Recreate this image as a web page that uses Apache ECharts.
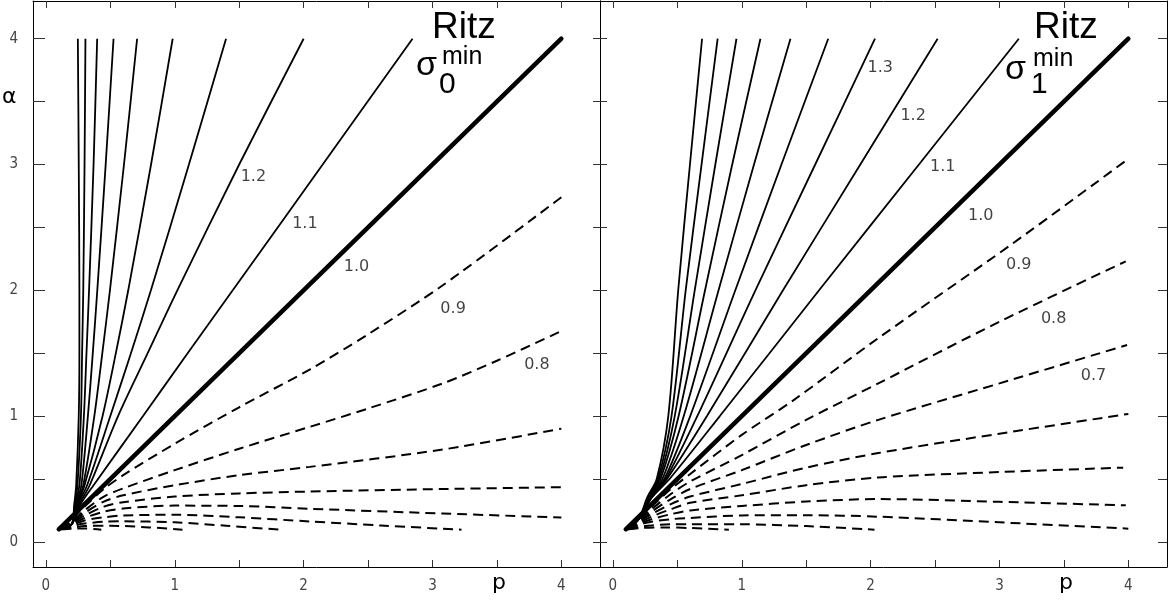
<!DOCTYPE html>
<html>
<head>
<meta charset="utf-8">
<script src="https://cdn.jsdelivr.net/npm/echarts@6/dist/echarts.min.js"></script>
<style>
html,body{margin:0;padding:0;background:#fff;}
#chart{width:1168px;height:603px;}
</style>
</head>
<body>
<div id="chart"></div>
<script>
// ---------- tick values ----------
const tickValues = [0, 0.5, 1, 1.5, 2, 2.5, 3, 3.5, 4];
const tickLabels = [0, 1, 2, 3, 4];

// ---------- LEFT panel (sigma_0 min) : [p, alpha] ----------
const L_10 = [[0.1,0.1],[4,4]];
const L_11 = [[0.1,0.1],[0.2,0.14],[0.27,0.3],[0.37,0.45],[0.754,1.0],[1.10,1.5],[1.45,2.0],[2.148,3.0],[2.845,4.0]];
const L_12 = [[0.1,0.1],[0.2,0.14],[0.26,0.3],[0.34,0.45],[0.56,1.0],[0.79,1.5],[1.02,2.0],[1.50,3.0],[2.0,4.0]];
const L_13 = [[0.1,0.1],[0.2,0.14],[0.25,0.3],[0.32,0.45],[0.50,1.0],[0.66,1.5],[0.815,2.0],[1.11,3.0],[1.398,4.0]];
const L_14 = [[0.1,0.1],[0.2,0.14],[0.245,0.3],[0.30,0.45],[0.44,1.0],[0.543,1.5],[0.639,2.0],[0.816,3.0],[0.984,4.0]];
const L_15 = [[0.1,0.1],[0.2,0.14],[0.24,0.3],[0.29,0.45],[0.376,1.0],[0.438,1.5],[0.497,2.0],[0.606,3.0],[0.708,4.0]];
const L_16 = [[0.1,0.1],[0.2,0.14],[0.235,0.3],[0.275,0.45],[0.326,1.0],[0.364,1.5],[0.399,2.0],[0.464,3.0],[0.525,4.0]];
const L_17 = [[0.1,0.1],[0.2,0.14],[0.23,0.3],[0.26,0.45],[0.295,1.0],[0.315,1.5],[0.335,2.0],[0.37,3.0],[0.398,4.0]];
const L_18 = [[0.1,0.1],[0.2,0.14],[0.225,0.3],[0.245,0.45],[0.272,1.0],[0.281,1.5],[0.29,2.0],[0.30,3.0],[0.307,4.0]];
const L_19 = [[0.1,0.1],[0.2,0.14],[0.22,0.3],[0.235,0.45],[0.255,1.0],[0.26,1.5],[0.26,2.0],[0.255,3.0],[0.248,4.0]];

const L_09 = [[0.12,0.1],[0.22,0.2],[0.3,0.28],[0.45,0.42],[0.6,0.53],[1.0,0.78],[1.5,1.07],[2.047,1.37],[2.5,1.65],[3.08,2.04],[4,2.74]];
const L_08 = [[0.12,0.1],[0.22,0.18],[0.3,0.25],[0.45,0.36],[0.6,0.425],[1.0,0.57],[1.5,0.74],[2.047,0.914],[2.5,1.06],[3.08,1.26],[3.5,1.44],[4,1.676]];
const L_07 = [[0.12,0.1],[0.22,0.17],[0.3,0.23],[0.45,0.32],[0.6,0.37],[1.0,0.45],[1.5,0.53],[2.047,0.596],[3.08,0.734],[4,0.9]];
const L_06 = [[0.12,0.1],[0.22,0.16],[0.3,0.21],[0.45,0.28],[0.6,0.315],[1.0,0.36],[1.5,0.385],[2.047,0.40],[3.08,0.42],[4,0.435]];
const L_05 = [[0.12,0.1],[0.22,0.15],[0.3,0.19],[0.45,0.24],[0.6,0.265],[1.0,0.288],[1.5,0.285],[2.047,0.263],[3.08,0.225],[4,0.194]];
const L_04 = [[0.12,0.1],[0.22,0.14],[0.3,0.17],[0.45,0.195],[0.6,0.21],[1.0,0.215],[1.5,0.195],[2.047,0.162],[2.6,0.13],[3.225,0.097]];
const L_03 = [[0.12,0.1],[0.22,0.13],[0.3,0.145],[0.45,0.16],[0.6,0.163],[1.0,0.155],[1.4,0.128],[1.81,0.097]];
const L_02 = [[0.12,0.1],[0.22,0.115],[0.3,0.125],[0.5,0.128],[0.8,0.115],[1.06,0.097]];
const L_01 = [[0.12,0.1],[0.2,0.105],[0.3,0.106],[0.43,0.097]];

// ---------- RIGHT panel (sigma_1 min) : [p, alpha] ----------
const R_10 = [[0.1,0.1],[4,4]];
const R_11 = [[0.1,0.1],[0.2,0.18],[0.3,0.35],[0.44,0.5],[0.83,1.0],[1.60,2.0],[2.375,3.0],[3.15,4.0]];
const R_12 = [[0.1,0.1],[0.2,0.18],[0.3,0.35],[0.42,0.5],[0.73,1.0],[1.32,2.0],[1.92,3.0],[2.52,4.0]];
const R_13 = [[0.1,0.1],[0.2,0.18],[0.295,0.35],[0.41,0.5],[0.655,1.0],[1.106,2.0],[1.57,3.0],[2.034,4.0]];
const R_14 = [[0.1,0.1],[0.2,0.18],[0.29,0.35],[0.40,0.5],[0.60,1.0],[0.95,2.0],[1.308,3.0],[1.671,4.0]];
const R_15 = [[0.1,0.1],[0.2,0.18],[0.285,0.35],[0.385,0.5],[0.55,1.0],[0.82,2.0],[1.095,3.0],[1.378,4.0]];
const R_16 = [[0.1,0.1],[0.2,0.18],[0.28,0.35],[0.37,0.5],[0.51,1.0],[0.715,2.0],[0.926,3.0],[1.145,4.0]];
const R_17 = [[0.1,0.1],[0.2,0.18],[0.275,0.35],[0.36,0.5],[0.48,1.0],[0.635,2.0],[0.795,3.0],[0.959,4.0]];
const R_18 = [[0.1,0.1],[0.2,0.18],[0.27,0.35],[0.35,0.5],[0.455,1.0],[0.565,2.0],[0.688,3.0],[0.813,4.0]];
const R_19 = [[0.1,0.1],[0.2,0.18],[0.265,0.35],[0.34,0.5],[0.43,1.0],[0.507,2.0],[0.598,3.0],[0.692,4.0]];

const R_09 = [[0.12,0.1],[0.22,0.2],[0.3,0.28],[0.45,0.42],[0.6,0.54],[1.0,0.85],[1.4,1.125],[2.06,1.62],[3.1,2.37],[3.98,3.03]];
const R_08 = [[0.12,0.1],[0.22,0.19],[0.3,0.26],[0.45,0.38],[0.6,0.48],[1.0,0.69],[1.5,0.97],[2.06,1.26],[3.0,1.75],[3.98,2.23]];
const R_07 = [[0.12,0.1],[0.22,0.18],[0.3,0.24],[0.45,0.34],[0.6,0.42],[1.0,0.57],[1.5,0.77],[2.06,0.97],[3.0,1.26],[3.99,1.565]];
const R_06 = [[0.12,0.1],[0.22,0.17],[0.3,0.22],[0.45,0.3],[0.6,0.36],[1.0,0.46],[1.5,0.59],[2.06,0.706],[3.0,0.86],[4.0,1.017]];
const R_05 = [[0.12,0.1],[0.22,0.16],[0.3,0.2],[0.45,0.26],[0.6,0.31],[1.0,0.37],[1.5,0.45],[2.06,0.512],[3.0,0.555],[3.96,0.59]];
const R_04 = [[0.12,0.1],[0.22,0.15],[0.3,0.18],[0.45,0.22],[0.6,0.25],[1.0,0.285],[1.5,0.32],[2.06,0.34],[3.0,0.318],[3.98,0.29]];
const R_03 = [[0.12,0.1],[0.22,0.14],[0.3,0.16],[0.45,0.18],[0.6,0.19],[1.0,0.21],[1.5,0.212],[2.06,0.2],[3.0,0.155],[4.0,0.105]];
const R_02 = [[0.12,0.1],[0.22,0.12],[0.3,0.13],[0.45,0.14],[0.6,0.14],[1.0,0.14],[1.5,0.125],[2.03,0.097]];
const R_01 = [[0.12,0.1],[0.22,0.11],[0.4,0.115],[0.6,0.11],[0.9,0.097]];

// ---------- contour labels ----------
const leftLabelText = ['1.2','1.1','1.0','0.9','0.8'];
const leftLabelAt = [[1.61,2.90],[2.01,2.53],[2.41,2.19],[3.16,1.85],[3.81,1.41]];
const rightLabelText = ['1.3','1.2','1.1','1.0','0.9','0.8','0.7'];
const rightLabelAt = [[2.075,3.77],[2.33,3.39],[2.56,2.98],[2.855,2.59],[3.15,2.20],[3.42,1.77],[3.73,1.32]];

const leftSolid = [L_11,L_12,L_13,L_14,L_15,L_16,L_17,L_18,L_19];
const leftDashed = [L_09,L_08,L_07,L_06,L_05,L_04,L_03,L_02,L_01];
const rightSolid = [R_11,R_12,R_13,R_14,R_15,R_16,R_17,R_18,R_19];
const rightDashed = [R_09,R_08,R_07,R_06,R_05,R_04,R_03,R_02,R_01];

// ---------- build ----------
const chart = echarts.init(document.getElementById('chart'), null, {renderer:'canvas'});
const tickFont = "'DejaVu Sans Condensed','DejaVu Sans',sans-serif";

function xAx(gi, pos, labels){
  return {
    type:'value', gridIndex:gi, position:pos, min:-0.1, max:4.3,
    axisLine:{show:true, onZero:false, lineStyle:{color:'#000', width:1}},
    axisTick:{show:true, inside:true, length:7, customValues:tickValues, lineStyle:{color:'#333', width:1}},
    axisLabel:{show:labels, customValues:tickLabels, margin:12, fontSize:15, color:'#444', fontFamily:tickFont,
      formatter:v=>String(v)},
    splitLine:{show:false}
  };
}
function yAx(gi, pos, opts){
  return Object.assign({
    type:'value', gridIndex:gi, position:pos, min:-0.2, max:4.3,
    axisLine:{show:true, onZero:false, lineStyle:{color:'#000', width:1}},
    axisTick:{show:false},
    axisLabel:{show:false},
    splitLine:{show:false}
  }, opts);
}

const series = [];
function addLine(data, gi, kind){
  const style = kind==='thick' ? {color:'#000', width:4.5, type:'solid', cap:'round'}
    : kind==='solid' ? {color:'#000', width:1.8, type:'solid'}
    : {color:'#000', width:2, type:[10,6]};
  series.push({
    type:'line', xAxisIndex: gi===0?0:2, yAxisIndex: gi===0?0:2,
    data:data, showSymbol:false, symbol:'none', smooth:0.3,
    lineStyle:style, silent:true, animation:false, z:2
  });
}
leftDashed.forEach(d=>addLine(d,0,'dashed'));
leftSolid.forEach(d=>addLine(d,0,'solid'));
addLine(L_10,0,'thick');
rightDashed.forEach(d=>addLine(d,1,'dashed'));
rightSolid.forEach(d=>addLine(d,1,'solid'));
addLine(R_10,1,'thick');

function labelSeries(texts, at, gi){
  series.push({
    type:'scatter', xAxisIndex: gi===0?0:2, yAxisIndex: gi===0?0:2,
    data: at.map((c,i)=>({value:c, name:texts[i]})),
    symbolSize:0, silent:true, animation:false, z:5,
    label:{show:true, position:'inside', formatter:p=>p.name, fontSize:16, color:'#111',
      fontFamily:"'DejaVu Sans',sans-serif"}
  });
}
labelSeries(leftLabelText, leftLabelAt, 0);
labelSeries(rightLabelText, rightLabelAt, 1);

const titleFont = "'Liberation Sans',Arial,sans-serif";
function sigmaBlock(xs, ys, sub){
  return [
    {type:'text', left:xs.ritz, top:ys.ritz, style:{text:'Ritz', font:"37px "+titleFont, fill:'#000'}},
    {type:'text', left:xs.sig, top:ys.sig, style:{text:'σ', font:"34px "+titleFont, fill:'#000'}},
    {type:'text', left:xs.min, top:ys.min, style:{text:'min', font:"25px "+titleFont, fill:'#000'}},
    {type:'text', left:xs.sub, top:ys.sub, style:{text:sub, font:"30px "+titleFont, fill:'#000'}}
  ];
}

const option = {
  backgroundColor:'#fff',
  animation:false,
  grid:[
    {left:33, top:1, width:567, height:566},
    {left:600, top:1, width:567, height:566}
  ],
  xAxis:[
    xAx(0,'bottom',true),
    xAx(0,'top',false),
    xAx(1,'bottom',true),
    xAx(1,'top',false)
  ],
  yAxis:[
    yAx(0,'left',{
      axisTick:{show:true, inside:true, length:12, customValues:tickValues, lineStyle:{color:'#333'}},
      axisLabel:{show:true, customValues:tickLabels, margin:15, fontSize:15, color:'#444', fontFamily:tickFont, formatter:v=>String(v)}
    }),
    yAx(0,'right',{}),
    yAx(1,'left',{
      axisTick:{show:true, inside:true, length:7, customValues:tickValues, lineStyle:{color:'#333'}}
    }),
    yAx(1,'left',{
      axisLine:{show:false, onZero:false},
      axisTick:{show:true, inside:false, length:7, customValues:tickValues, lineStyle:{color:'#333'}}
    }),
    yAx(1,'right',{
      axisTick:{show:true, inside:true, length:9, customValues:tickValues, lineStyle:{color:'#333'}}
    })
  ],
  series: series,
  graphic:[
    {type:'text', left:2, top:86, style:{text:'α', font:"22px 'DejaVu Sans',sans-serif", fill:'#000'}},
    {type:'text', left:492, top:572, style:{text:'p', font:"22px 'DejaVu Sans',sans-serif", fill:'#000'}},
    {type:'text', left:1059, top:572, style:{text:'p', font:"22px 'DejaVu Sans',sans-serif", fill:'#000'}},
    ...sigmaBlock({ritz:432, sig:416, min:442, sub:439},{ritz:9, sig:49, min:45, sub:70}, '0'),
    ...sigmaBlock({ritz:1034, sig:1005, min:1033, sub:1031},{ritz:9, sig:53, min:47, sub:70}, '1')
  ]
};
chart.setOption(option);
</script>
</body>
</html>
